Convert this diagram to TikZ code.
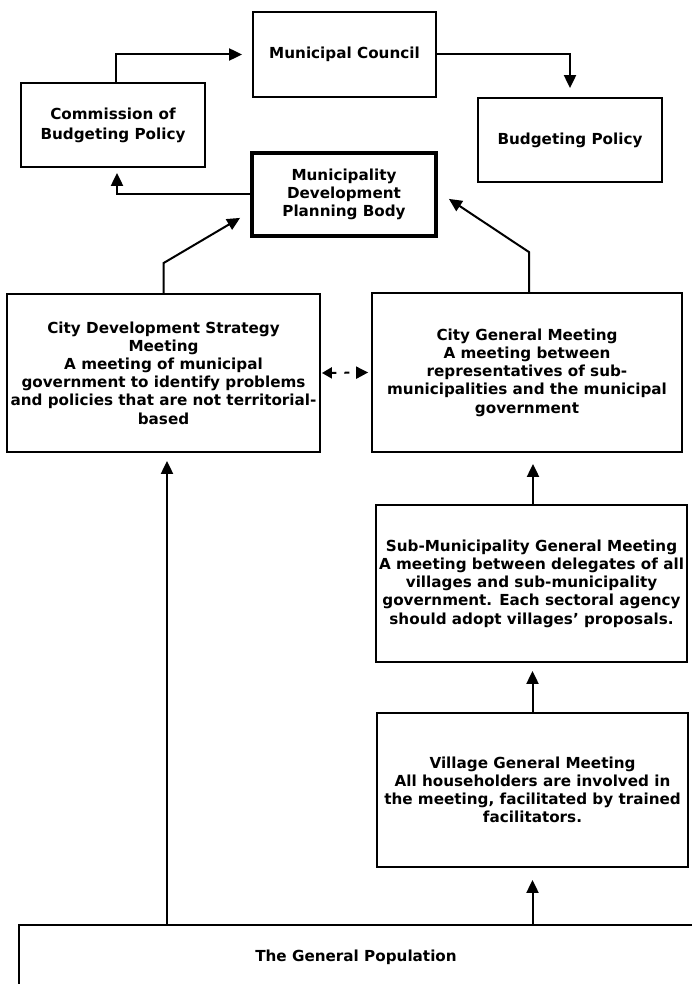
\documentclass[tikz,border=0pt]{standalone}
\usepackage{fontspec}
\setmainfont{DejaVu Sans}
\usetikzlibrary{arrows.meta}
\tikzset{
  box/.style={draw, line width=1.8pt, rectangle, inner sep=0pt, align=center,
    font=\fontsize{15.2}{18.2}\selectfont\bfseries},
  thickbox/.style={box, line width=3.8pt},
  arr/.style={line width=2pt, -{Triangle[length=13pt,width=12pt]}},
  darr/.style={line width=2pt, dash pattern=on 5pt off 8pt,
    {Triangle[length=10pt,width=11pt]}-{Triangle[length=12pt,width=12pt]}}
}
\begin{document}
\begin{tikzpicture}[x=1pt,y=-1pt]
\useasboundingbox (0,0) rectangle (691,984);
\node[box, minimum width=183pt, minimum height=85pt] (mc) at (344.5,54.5) {Municipal Council};
\node[box, minimum width=184pt, minimum height=84pt] (comm) at (113,125) {Commission of\\[2pt]Budgeting Policy};
\node[box, minimum width=184pt, minimum height=84pt] (bp) at (570,140) {Budgeting Policy};
\node[thickbox, minimum width=184pt, minimum height=83pt] (mdpb) at (344,194.5) {Municipality\\Development\\Planning Body};
\node[box, minimum width=313pt, minimum height=158pt] (cds) at (163.5,373) {City Development Strategy\\Meeting\\A meeting of municipal\\government to identify problems\\and policies that are not territorial-\\based};
\node[box, minimum width=310pt, minimum height=159pt] (cgm) at (527,372.5) {City General Meeting\\A meeting between\\representatives of sub-\\municipalities and the municipal\\government};
\node[box, minimum width=311pt, minimum height=157pt] (smgm) at (531.5,583.5) {Sub-Municipality General Meeting\\A meeting between delegates of all\\villages and sub-municipality\\government. Each sectoral agency\\should adopt villages’ proposals.};
\node[box, minimum width=311pt, minimum height=154pt] (vgm) at (532.5,790) {Village General Meeting\\All householders are involved in\\the meeting, facilitated by trained\\facilitators.};
\node[box, minimum width=674pt, minimum height=65pt] (gp) at (356,957.5) {The General Population};

\draw[arr] ([xshift=3pt]comm.north) |- ([xshift=-10pt]mc.west);
\draw[arr] (mc.east) -| ([yshift=9pt]bp.north);
\draw[arr] (mdpb.west) -| ([xshift=4pt,yshift=-5pt]comm.south);
\draw[arr] (cds.north) -- ++(0,-30) -- ([xshift=-10pt,yshift=20pt]mdpb.south west);
\draw[arr] ([xshift=2pt]cgm.north) -- ++(0,-40) -- ([xshift=11pt,yshift=39pt]mdpb.south east);
\draw[darr] ([xshift=1pt]cds.east) -- ([xshift=-3pt]cgm.west);
\draw[arr] ([xshift=1.5pt]smgm.north) -- ([xshift=1.5pt,yshift=-11pt]smgm.north |- cgm.south);
\draw[arr] (vgm.north) -- ([yshift=-8pt]vgm.north |- smgm.south);
\draw[arr] (gp.north -| vgm.south) -- ([yshift=-12pt]vgm.south);
\coordinate (cdsx) at ([xshift=3.5pt]cds.south);
\draw[arr] (gp.north -| cdsx) -- ([yshift=-8pt]cdsx);
\end{tikzpicture}
\end{document}
